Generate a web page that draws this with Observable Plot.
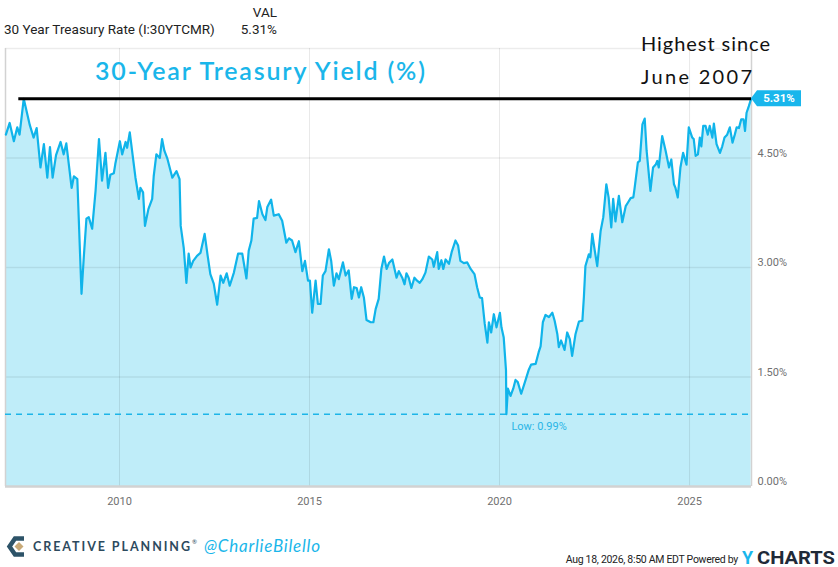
<!DOCTYPE html>
<html><head><meta charset="utf-8">
<script src="https://cdn.jsdelivr.net/npm/d3@7"></script>
<script src="https://cdn.jsdelivr.net/npm/@observablehq/plot@0.6"></script>
<style>
body{margin:0;background:#fff;}
#wrap{position:relative;width:838px;height:567px;overflow:hidden;}
</style></head><body>
<div id="wrap"></div>
<script>
const dates = [
2007.01,2007.11,2007.22,2007.31,2007.37,2007.48,2007.64,2007.74,2007.82,2007.92,
2008.01,2008.10,2008.17,2008.24,2008.33,2008.45,2008.53,2008.60,2008.74,2008.80,2008.89,
2009.00,2009.06,2009.13,2009.19,2009.28,2009.37,2009.46,2009.54,2009.63,2009.70,2009.76,2009.85,2009.89,
2010.01,2010.07,2010.16,2010.20,2010.27,2010.42,2010.51,2010.55,2010.62,2010.67,2010.76,2010.86,2010.90,2010.97,
2011.06,2011.12,2011.18,2011.26,2011.39,2011.50,2011.58,2011.61,2011.69,2011.76,2011.82,2011.87,2011.94,
2012.04,2012.13,2012.24,2012.32,2012.39,2012.48,2012.57,2012.66,2012.73,2012.82,2012.90,
2013.01,2013.12,2013.23,2013.34,2013.40,2013.47,2013.53,2013.62,2013.67,2013.76,2013.84,2013.89,2013.99,
2014.06,2014.19,2014.28,2014.39,2014.46,2014.54,2014.63,2014.72,2014.81,2014.88,2014.96,
2015.01,2015.07,2015.16,2015.22,2015.29,2015.35,2015.42,2015.51,2015.57,2015.64,2015.71,2015.77,2015.88,2015.95,
2016.03,2016.11,2016.17,2016.24,2016.30,2016.36,2016.43,2016.50,2016.61,2016.68,2016.74,2016.82,2016.89,2016.96,
2017.03,2017.09,2017.18,2017.29,2017.35,2017.44,2017.50,2017.55,2017.61,2017.68,2017.76,2017.83,2017.90,2017.97,
2018.05,2018.14,2018.23,2018.27,2018.36,2018.40,2018.47,2018.52,2018.58,2018.67,2018.74,2018.84,2018.91,2018.97,
2019.06,2019.15,2019.24,2019.34,2019.41,2019.48,2019.54,2019.61,2019.68,2019.72,2019.78,2019.85,2019.92,
2020.01,2020.05,2020.11,2020.17,2020.18,2020.22,2020.29,2020.36,2020.42,2020.48,2020.57,2020.68,2020.77,2020.83,2020.95,
2021.03,2021.08,2021.14,2021.21,2021.30,2021.39,2021.45,2021.52,2021.56,2021.62,2021.71,2021.78,2021.85,2021.91,
2022.00,2022.09,2022.18,2022.22,2022.26,2022.35,2022.39,2022.44,2022.50,2022.57,2022.66,2022.73,2022.81,2022.87,2022.94,2022.99,
2023.05,2023.14,2023.23,2023.32,2023.38,2023.45,2023.52,2023.55,2023.64,2023.69,2023.76,2023.82,2023.87,2023.97,
2024.04,2024.11,2024.15,2024.19,2024.28,2024.37,2024.46,2024.52,2024.59,2024.63,2024.69,2024.76,2024.83,2024.92,2024.98,
2025.07,2025.11,2025.16,2025.22,2025.27,2025.31,2025.36,2025.42,2025.48,2025.53,2025.60,2025.64,2025.71,2025.80,2025.86,2025.92,2025.99,
2026.06,2026.13,2026.19,2026.24,2026.30,2026.36,2026.42,2026.46,2026.50,2026.56,2026.62
];
const yields = [
4.82,4.98,4.73,4.92,4.82,5.31,4.95,4.78,4.91,4.37,
4.69,4.23,4.65,4.23,4.54,4.72,4.55,4.70,4.09,4.25,4.21,
2.64,3.14,3.67,3.69,3.53,4.05,4.76,4.19,4.57,4.09,4.27,4.29,4.42,
4.73,4.55,4.72,4.64,4.85,4.23,3.94,4.09,4.03,3.57,3.80,3.94,4.25,4.55,
4.50,4.76,4.60,4.49,4.23,4.32,4.21,3.57,3.27,2.79,3.19,3.00,3.09,
3.16,3.20,3.46,3.16,2.91,2.78,2.49,2.89,2.79,2.92,2.75,
2.93,3.19,3.19,2.85,3.23,3.37,3.67,3.68,3.91,3.73,3.65,3.83,3.93,
3.71,3.73,3.64,3.34,3.40,3.37,3.21,3.36,2.95,3.09,2.82,
2.82,2.38,2.82,2.50,2.50,2.89,2.95,3.25,3.09,2.75,2.92,2.84,3.07,2.89,
2.96,2.57,2.73,2.72,2.59,2.73,2.59,2.28,2.25,2.25,2.43,2.57,2.98,3.15,
2.98,3.06,3.11,2.86,2.95,2.86,2.77,2.92,2.86,2.72,2.86,2.82,2.79,2.84,
2.93,3.15,3.11,3.01,3.21,2.98,3.10,2.98,3.11,3.05,3.21,3.37,3.30,3.09,
3.06,3.07,2.98,2.91,2.73,2.59,2.58,2.23,1.97,2.25,2.11,2.36,2.18,
2.38,2.18,2.04,1.59,0.99,1.34,1.24,1.34,1.46,1.43,1.27,1.45,1.60,1.67,1.68,
1.84,1.92,2.25,2.35,2.32,2.38,2.27,2.09,1.91,2.00,1.87,2.11,2.02,1.79,
2.09,2.26,2.27,2.60,3.02,3.18,3.14,3.46,3.25,3.02,3.50,3.69,4.14,3.96,3.55,3.94,
3.63,3.98,3.62,3.84,3.89,3.95,3.96,4.07,4.44,4.46,4.96,5.04,4.60,4.05,
4.37,4.41,4.46,4.37,4.80,4.60,4.37,4.48,4.14,4.09,3.96,4.37,4.57,4.41,4.92,
4.78,4.76,4.53,4.55,4.78,4.66,4.94,4.94,4.82,4.94,4.78,4.97,4.69,4.57,4.66,4.78,4.82,
4.92,4.71,4.82,4.92,4.91,5.03,5.03,4.87,5.12,5.21,5.31
];
const xTicks = [2010, 2015, 2020, 2025];
const yTicks = [0, 1.5, 3, 4.5];
const yGrid = [1.5, 3, 4.5, 6];
const xDomain = [2007.0, 2026.63];
const yDomain = [0, 6];
const highValue = 5.31, highStart = 2007.35;
const lowValue = 0.99, lowDate = 2020.18;
const lastValue = 5.31;
const seriesName = "30 Year Treasury Rate (I:30YTCMR)";
const titleText = "30-Year Treasury Yield (%)";
const noteLines = ["Highest since", "June 2007"];
const stampText = "Aug 18, 2026, 8:50 AM EDT Powered by";

const data = dates.map((t, i) => ({t, v: yields[i]}));
const LINE = "#10b4ea";

const chart = Plot.plot({
  width: 838, height: 567,
  marginLeft: 5, marginRight: 87, marginTop: 48, marginBottom: 81,
  x: {domain: xDomain},
  y: {domain: yDomain},
  style: {fontFamily: "Roboto, sans-serif", fontSize: "11px", color: "#707070", background: "#fff"},
  marks: [
    Plot.areaY(data, {x: "t", y: "v", fill: "#bfedf9"}),
    Plot.ruleY(yGrid, {stroke: "#000", strokeOpacity: 0.075, strokeWidth: 1.5}),
    Plot.ruleX(xTicks, {stroke: "#000", strokeOpacity: 0.09, strokeWidth: 1}),
    Plot.ruleX(xDomain, {stroke: "#d2d2d2", strokeWidth: 1.5}),
    Plot.ruleY([lowValue], {stroke: "#1db5e8", strokeWidth: 1.6, strokeDasharray: "6,5"}),
    Plot.lineY(data, {x: "t", y: "v", stroke: LINE, strokeWidth: 2.2}),
    Plot.ruleY([highValue], {x1: highStart, x2: xDomain[1], stroke: "#000", strokeWidth: 3}),
    Plot.ruleY([0], {stroke: "#d2d2d2", strokeWidth: 2.5}),
    Plot.axisY(yTicks, {anchor: "right", tickSize: 0, tickPadding: 6, dy: -5,
      tickFormat: d => d.toFixed(2) + "%", label: null, fill: "#707070"}),
    Plot.axisX(xTicks, {anchor: "bottom", tickSize: 0, tickPadding: 11,
      tickFormat: d => String(d), label: null, fill: "#707070"}),
    Plot.text([{t: lowDate, v: lowValue}], {x: "t", y: "v",
      text: d => "Low: " + d.v.toFixed(2) + "%", dx: 5, dy: 12,
      textAnchor: "start", fill: "#2ab5e6", fontSize: 11})
  ]
});
document.getElementById("wrap").appendChild(chart);

const svg = d3.select(chart);
const xs = chart.scale("x"), ys = chart.scale("y");
const X = d3.scaleLinear(xs.domain, xs.range);
const Y = d3.scaleLinear(ys.domain, ys.range);
const g = svg.append("g").attr("text-anchor", "start");

// last value tag
const tx = X(xDomain[1]), ty = Y(lastValue);
g.append("path")
  .attr("d", `M${tx},${ty} L${tx + 6},${ty - 8} L${tx + 50},${ty - 8} L${tx + 50},${ty + 8} L${tx + 6},${ty + 8} Z`)
  .attr("fill", "#19b6ec");
g.append("text").attr("x", tx + 28).attr("y", ty + 4).attr("text-anchor", "middle")
  .attr("fill", "#fff").attr("font-family", "Roboto, sans-serif").attr("font-weight", "bold")
  .attr("font-size", 11.5).text(lastValue.toFixed(2) + "%");

// header
const hdr = g.append("g").attr("font-family", "Roboto, sans-serif").attr("fill", "#222").attr("font-size", 13.5);
hdr.append("text").attr("x", 4).attr("y", 34).attr("text-anchor", "start").text(seriesName);
hdr.append("text").attr("x", 277).attr("y", 17).attr("text-anchor", "end").text("VAL");
hdr.append("text").attr("x", 277).attr("y", 34).attr("text-anchor", "end").text(lastValue.toFixed(2) + "%");

// title and note
g.append("text").attr("x", 95).attr("y", 80).attr("text-anchor", "start").attr("font-family", "Lato, sans-serif")
  .attr("font-size", 25).attr("font-weight", 600).attr("fill", "#1ab6ea")
  .attr("textLength", 330).attr("lengthAdjust", "spacing").text(titleText);
noteLines.forEach((s, i) => g.append("text").attr("x", 641).attr("y", 51 + i * 33).attr("text-anchor", "start")
  .attr("font-family", "Lato, sans-serif").attr("font-size", 20).attr("fill", "#111")
  .attr("textLength", i === 0 ? 129 : 111).attr("lengthAdjust", "spacing").text(s));

// footer left: logo + brand
g.append("path").attr("d", "M24,538.5 L15,538.5 L9.5,546.5 L15,554.5 L24,554.5")
  .attr("fill", "none").attr("stroke", "#2d5368").attr("stroke-width", 4.5).attr("stroke-linejoin", "miter");
g.append("path").attr("d", "M19,542 L23.5,546.5 L19,551 L14.5,546.5 Z").attr("fill", "#c8a977");
g.append("text").attr("x", 33).attr("y", 551).attr("text-anchor", "start").attr("font-family", "Lato, sans-serif")
  .attr("font-weight", "bold").attr("font-size", 12.5)
  .attr("textLength", 157).attr("lengthAdjust", "spacing")
  .attr("fill", "#2d4a5e").text("CREATIVE PLANNING");
g.append("text").attr("x", 192).attr("y", 544).attr("text-anchor", "start").attr("font-family", "Lato, sans-serif")
  .attr("font-size", 6).attr("fill", "#2d4a5e").text("®");
g.append("text").attr("x", 204).attr("y", 552).attr("text-anchor", "start").attr("font-family", "Lato, sans-serif")
  .attr("font-style", "italic").attr("font-size", 17).attr("fill", "#1ab6ea")
  .attr("textLength", 116).attr("lengthAdjust", "spacing").text("@CharlieBilello");

// footer right
g.append("text").attr("x", 738).attr("y", 563).attr("text-anchor", "end")
  .attr("font-family", "Roboto, sans-serif").attr("font-size", 10.5).attr("letter-spacing", -0.3)
  .attr("fill", "#222").text(stampText);
g.append("text").attr("x", 742).attr("y", 564).attr("text-anchor", "start")
  .attr("font-family", "Roboto, sans-serif").attr("font-weight", "bold").attr("font-size", 18)
  .attr("fill", "#19b6ec").text("Y");
g.append("text").attr("x", 757).attr("y", 564).attr("text-anchor", "start")
  .attr("font-family", "Roboto, sans-serif").attr("font-weight", "bold").attr("font-size", 18)
  .attr("fill", "#1f2a38").attr("textLength", 78).attr("lengthAdjust", "spacingAndGlyphs").text("CHARTS");
</script>
</body></html>
